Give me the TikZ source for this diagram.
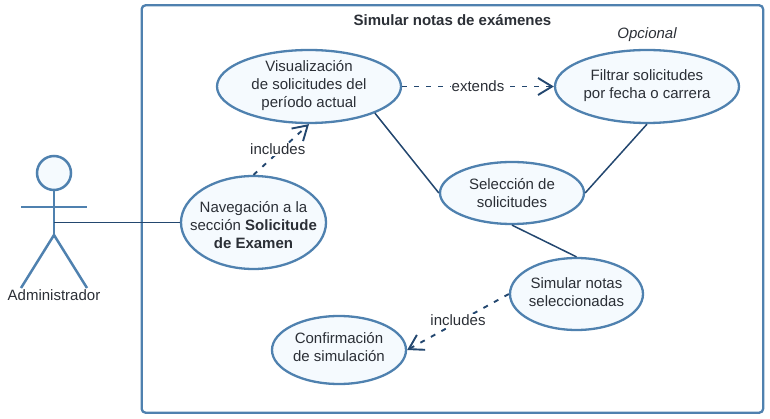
\documentclass[tikz,border=0pt]{standalone}
\usepackage{fontspec}
\setmainfont{Liberation Sans}
\usetikzlibrary{arrows.meta,shapes.geometric}
\definecolor{edge}{HTML}{4F81AF}
\definecolor{wire}{HTML}{23476F}
\definecolor{fillc}{HTML}{F5FAFE}
\definecolor{ink}{HTML}{2B2F36}
\newcommand{\caseText}[2][0pt]{\makebox[0pt][c]{\smash{\raisebox{\dimexpr-3.5pt+#1\relax}{\begin{tabular}{@{}c@{}}#2\end{tabular}}}}}
\tikzset{
  usecase/.style={draw=edge,line width=2.3pt,fill=fillc,ellipse,inner sep=0pt,text=ink,font=\fontsize{15}{18}\selectfont},
  wireline/.style={draw=wire,line width=1.5pt},
  dashline/.style={wireline,line width=1.9pt,dash pattern=on 5pt off 7pt,-{Straight Barb[length=14pt,width=17pt,line width=1.9pt]}},
  lab/.style={text=ink,fill=white,inner sep=1pt,font=\fontsize{15}{17}\selectfont},
  actorline/.style={draw=edge,line width=2.5pt}
}
\begin{document}
\begin{tikzpicture}[x=1pt,y=-1pt]
\useasboundingbox (0,0) rectangle (770,419);
\node[draw=edge,line width=2.3pt,rounded corners=4pt,minimum width=621.5pt,minimum height=407.5pt,inner sep=0pt] (frame) at (452.4,209) {};
\node[text=ink,font=\bfseries\fontsize{15}{17}\selectfont] (title) at (452.5,20) {Simular notas de exámenes};
\node[text=ink,font=\itshape\fontsize{15}{17}\selectfont] (opc) at (647,34.5) {Opcional};

\coordinate (hip) at (54,235);
\coordinate (armL) at (21,207);
\coordinate (armR) at (87,207);
\coordinate (legL) at (21,288);
\coordinate (legR) at (87,288);
\coordinate (grip) at (54,222.5);
\node[draw=edge,line width=2.5pt,fill=fillc,circle,minimum size=34pt,inner sep=0pt] (head) at (54,173) {};
\draw[actorline] (head.south) -- (hip);
\draw[actorline] (armL) -- (armR);
\draw[actorline] (legL) -- (hip) -- (legR);
\node[text=ink,font=\fontsize{15}{17}\selectfont] (admin) at (54,295) {Administrador};

\node[usecase,minimum width=184pt,minimum height=73pt] (vis) at (309,86.5) {\caseText{Visualización\\de solicitudes del\\período actual}};
\node[usecase,minimum width=184pt,minimum height=73pt] (fil) at (647,86.5) {\caseText{Filtrar solicitudes\\por fecha o carrera}};
\node[usecase,minimum width=144pt,minimum height=62pt] (sel) at (512,193) {\caseText[-2pt]{Selección de\\solicitudes}};
\node[usecase,minimum width=145pt,minimum height=93pt] (nav) at (253.5,222.5) {\caseText[-4.5pt]{Navegación a la\\sección \textbf{Solicitude}\\\textbf{de Examen}}};
\node[usecase,minimum width=133pt,minimum height=72pt] (sim) at (576.5,294) {\caseText{Simular notas\\seleccionadas}};
\node[usecase,minimum width=134pt,minimum height=68pt] (con) at (339,350) {\caseText[1pt]{Confirmación\\de simulación}};

\draw[wireline] (grip) -- (nav.west);
\draw[wireline] (vis.-22) -- (sel.west);
\draw[wireline] (sel.east) -- (fil.south);
\draw[wireline] (sel.south) -- (sim.north);
\draw[dashline] (vis.east) -- node[lab,yshift=0.5pt] {extends} (fil.west);
\draw[dashline] (nav.north) -- node[lab,xshift=-3.5pt] {includes} (vis.south);
\draw[dashline] (sim.west) -- node[lab,yshift=1.5pt] {includes} (con.east);
\end{tikzpicture}
\end{document}
